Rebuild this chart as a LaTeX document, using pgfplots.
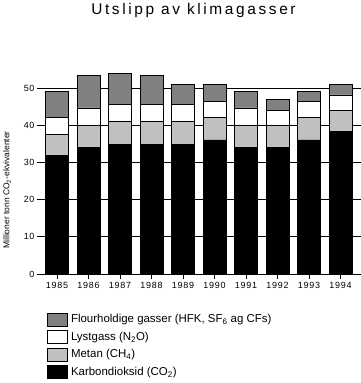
\documentclass[border=0pt]{standalone}
\usepackage{fontspec}
\setmainfont{Liberation Sans}
\newfontfamily\titlefont[LetterSpace=17]{Liberation Sans}
\newfontfamily\tickfont[LetterSpace=8]{Liberation Sans}
\usepackage{pgfplots}
\usepackage{pgfplotstable}
\pgfplotsset{compat=1.18}
\definecolor{fgrey}{HTML}{808080}
\definecolor{lgrey}{HTML}{C0C0C0}
\pgfplotstableread{
x year co2 ch4 n2o f
0 1985 32.0 5.5 4.7 6.9
1 1986 34.1 5.9 4.7 8.7
2 1987 35.0 6.0 4.7 8.4
3 1988 35.0 6.0 4.7 7.7
4 1989 35.0 6.0 4.7 5.4
5 1990 36.1 6.0 4.4 4.6
6 1991 34.1 5.9 4.7 4.4
7 1992 34.1 5.9 4.1 3.0
8 1993 36.1 6.0 4.4 2.6
9 1994 38.3 5.7 4.2 2.9
}\data
\pgfplotsset{mylegend/.style={legend image code/.code={\draw[##1,draw=black,line width=0.8bp] (0bp,-6.5bp) rectangle (20bp,6.5bp);}}}
\begin{document}
\begin{tikzpicture}[x=1bp,y=1bp]
\path[use as bounding box] (0,0) rectangle (361,-383);
\node[font=\titlefont\fontsize{15.5}{17}\selectfont, anchor=base] at (193.5,-14.5) {Utslipp av klimagasser};
\node[rotate=90, font=\fontsize{8.5}{9}\selectfont, anchor=center] at (7,-190) {Millioner tonn CO\textsubscript{2}-ekvivalenter};
\begin{axis}[
  at={(37bp,-274bp)}, anchor=south west,
  scale only axis, width=324bp, height=204.3bp,
  xmin=-0.635, xmax=9.65, ymin=0, ymax=55,
  ybar stacked, bar width=23bp,
  separate axis lines,
  axis x line*=bottom, axis y line*=left,
  y axis line style={draw=none},
  x axis line style={line width=0.8bp},
  ytick={0,10,20,30,40,50},
  ymajorgrids, grid style={black, line width=0.8bp},
  ytick style={draw=none},
  xtick=data, xticklabels from table={\data}{year},
  xtick align=outside, major tick length=5bp,
  xtick style={black, line width=0.8bp},
  ticklabel style={font=\tickfont\fontsize{9}{10}\selectfont},
  /pgf/number format/assume math mode=true,
  yticklabel style={xshift=1bp},
  reverse legend,
  legend style={at={(axis description cs:0.031,-0.188)}, anchor=north west, draw=none, fill=none,
    inner sep=0pt, row sep=3.7bp, column sep=3bp, font=\fontsize{11.5}{12}\selectfont,
    nodes={inner sep=0pt}},
  legend cell align=left,
]
\addplot[fill=black, draw=black, line width=0.8bp, mylegend] table[x=x, y=co2] {\data};
\addlegendentry{Karbondioksid (CO\textsubscript{2})}
\addplot[fill=lgrey, draw=black, line width=0.8bp, mylegend] table[x=x, y=ch4] {\data};
\addlegendentry{Metan (CH\textsubscript{4})}
\addplot[fill=white, draw=black, line width=0.8bp, mylegend] table[x=x, y=n2o] {\data};
\addlegendentry{Lystgass (N\textsubscript{2}O)}
\addplot[fill=fgrey, draw=black, line width=0.8bp, mylegend] table[x=x, y=f] {\data};
\addlegendentry{Flourholdige gasser (HFK, SF\textsubscript{6} ag CFs)}
\end{axis}
\end{tikzpicture}
\end{document}
